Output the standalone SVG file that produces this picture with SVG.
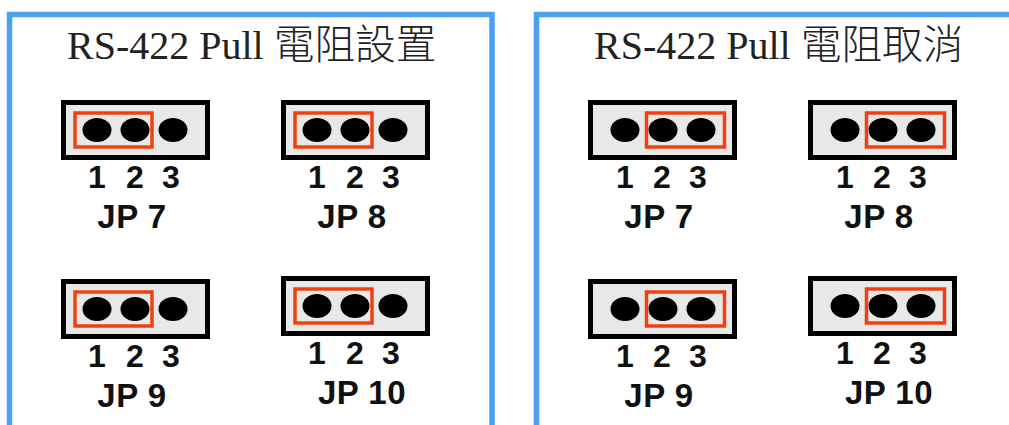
<svg xmlns="http://www.w3.org/2000/svg" width="1009" height="425" viewBox="0 0 1009 425">
<style>
.panel{fill:none;stroke:#4da0f0;stroke-width:5.5}
.title{font-family:"Liberation Serif","Noto Sans CJK TC",serif;font-size:40px;fill:#222}
.cjk{font-size:40.700px;font-weight:300}
.body{fill:#e8e8e8;stroke:#000;stroke-width:5}
.red{fill:none;stroke:#f04010;stroke-width:3.5}
.num,.lbl{font-family:"Liberation Sans",Arial,sans-serif;font-weight:bold;fill:#111;text-anchor:middle}
.num{font-size:32px}.lbl{font-size:33px;letter-spacing:.5px}
</style>
<defs>
<ellipse id="pin" rx="14.5" ry="12" fill="#000"/>
<g id="base"><rect class="body" x="2.5" y="2.5" width="144" height="55"/></g>
<g id="set"><use href="#base"/><use href="#pin" x="36" y="30"/><use href="#pin" x="74" y="30"/><use href="#pin" x="112" y="30"/><rect class="red" x="14" y="13" width="77" height="34"/><text class="num" x="36" y="88">1</text><text class="num" x="74" y="88">2</text><text class="num" x="110" y="88">3</text></g>
<g id="off"><use href="#base"/><use href="#pin" x="37" y="30"/><use href="#pin" x="75" y="30"/><use href="#pin" x="113" y="30"/><rect class="red" x="58.500" y="13" width="78" height="34"/><text class="num" x="37" y="88">1</text><text class="num" x="74" y="88">2</text><text class="num" x="110" y="88">3</text></g>
</defs>
<rect width="1009" height="425" fill="#fff"/>
<g id="panel-set"><path class="panel" d="M9.500 425V14.500H492V425"/><text class="title" x="67" y="59">RS-422 Pull <tspan class="cjk">電阻設置</tspan></text></g>
<g id="panel-cancel"><path class="panel" d="M536.500 425V14.500H1009"/><text class="title" x="594" y="59">RS-422 Pull <tspan class="cjk">電阻取消</tspan></text></g>
<g id="s-jp7"><use href="#set" x="61" y="100"/><text class="lbl" x="132" y="228">JP 7</text></g>
<g id="s-jp8"><use href="#set" x="281" y="100"/><text class="lbl" x="352" y="228">JP 8</text></g>
<g id="s-jp9"><use href="#set" x="61" y="279"/><text class="lbl" x="132" y="407">JP 9</text></g>
<g id="s-jp10"><use href="#set" x="281" y="276"/><text class="lbl" x="362" y="404">JP 10</text></g>
<g id="c-jp7"><use href="#off" x="588" y="100"/><text class="lbl" x="659" y="228">JP 7</text></g>
<g id="c-jp8"><use href="#off" x="808" y="100"/><text class="lbl" x="879" y="228">JP 8</text></g>
<g id="c-jp9"><use href="#off" x="588" y="279"/><text class="lbl" x="659" y="407">JP 9</text></g>
<g id="c-jp10"><use href="#off" x="808" y="276"/><text class="lbl" x="889" y="404">JP 10</text></g>
</svg>
